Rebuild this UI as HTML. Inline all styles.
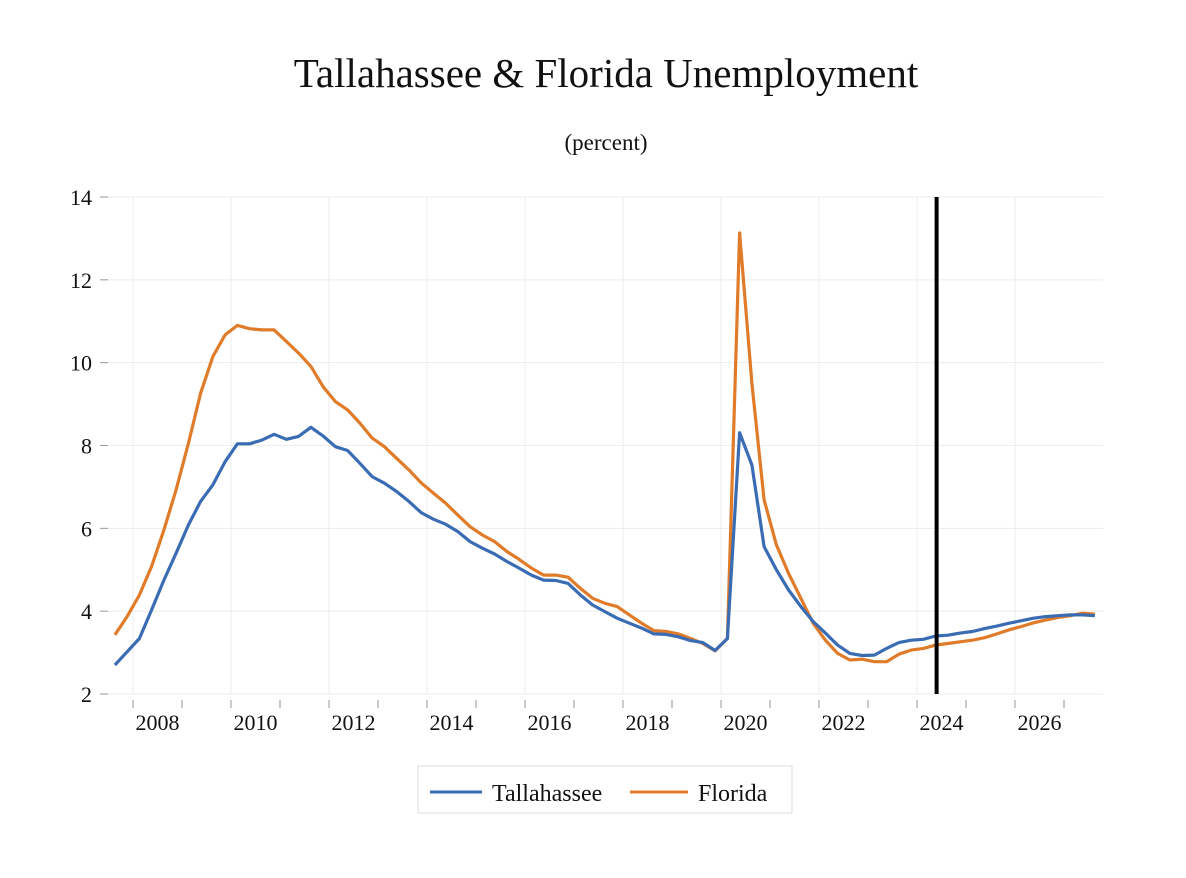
<!DOCTYPE html>
<html><head><meta charset="utf-8"><style>
html,body{margin:0;padding:0;background:#fff;}
svg text{font-family:"Liberation Serif",serif;fill:#111;}
</style></head><body>
<svg id="chart" width="1186" height="873" viewBox="0 0 1186 873" xmlns="http://www.w3.org/2000/svg">
<text x="606" y="87" text-anchor="middle" font-size="41">Tallahassee &amp; Florida Unemployment</text>
<text x="606" y="150" text-anchor="middle" font-size="23">(percent)</text>
<g id="grid"></g><g id="axes"></g><g id="series"></g>
<line id="divider" y1="197" y2="694" stroke="#000" stroke-width="4"/>
<g>
<rect x="418" y="766" width="374" height="47" fill="#fff" stroke="#ddd" stroke-width="1"/>
<line x1="430" y1="792" x2="482" y2="792" stroke="#3a6cb4" stroke-width="3"/>
<text x="492" y="801" font-size="24">Tallahassee</text>
<line x1="630" y1="792" x2="688" y2="792" stroke="#e07b2a" stroke-width="3"/>
<text x="698" y="801" font-size="24">Florida</text>
</g>
</svg>
<script>
const startYear = 2007.63;
const stepYears = 0.25;
const tallahassee = [2.70,3.02,3.34,4.03,4.75,5.40,6.08,6.65,7.05,7.61,8.04,8.04,8.13,8.27,8.15,8.22,8.44,8.23,7.97,7.88,7.57,7.25,7.09,6.89,6.65,6.38,6.22,6.10,5.92,5.68,5.52,5.38,5.20,5.04,4.87,4.75,4.74,4.67,4.39,4.15,3.99,3.83,3.71,3.59,3.45,3.44,3.38,3.29,3.24,3.05,3.34,8.31,7.53,5.56,5.00,4.51,4.11,3.75,3.47,3.18,2.98,2.93,2.94,3.10,3.24,3.30,3.32,3.40,3.42,3.47,3.51,3.58,3.64,3.71,3.77,3.83,3.87,3.89,3.91,3.91,3.89];
const florida = [3.43,3.87,4.39,5.08,5.96,6.93,8.05,9.26,10.15,10.67,10.90,10.82,10.79,10.79,10.51,10.23,9.91,9.42,9.06,8.86,8.54,8.18,7.97,7.69,7.41,7.10,6.85,6.61,6.32,6.04,5.84,5.68,5.44,5.25,5.04,4.87,4.87,4.82,4.55,4.31,4.19,4.11,3.91,3.71,3.53,3.51,3.45,3.34,3.22,3.04,3.34,13.13,9.50,6.69,5.60,4.91,4.31,3.71,3.30,2.98,2.82,2.84,2.78,2.78,2.96,3.06,3.10,3.18,3.22,3.26,3.30,3.36,3.45,3.55,3.63,3.72,3.79,3.85,3.89,3.95,3.93];
const yTicks = [2,4,6,8,10,12,14];
const xLabels = [2008,2010,2012,2014,2016,2018,2020,2022,2024,2026];
const forecastStart = 2024.4;

const NS="http://www.w3.org/2000/svg";
function X(t){return 133+(t-2008)*49;}
function Y(v){return 694-(v-2)*(497/12);}
function mk(tag,attrs,parent){const e=document.createElementNS(NS,tag);for(const k in attrs)e.setAttribute(k,attrs[k]);parent.appendChild(e);return e;}
const grid=document.getElementById('grid'),axes=document.getElementById('axes'),series=document.getElementById('series');
yTicks.forEach(v=>{
  const g=mk('line',{x1:108,x2:1103,y1:Y(v),y2:Y(v),stroke:'#ececec','stroke-width':1},grid);
  
  
  const tk=mk('line',{x1:100,x2:108,y1:Y(v),y2:Y(v),stroke:'#999','stroke-width':1},axes);
  
  
  const t=mk('text',{x:92,y:Y(v)+8,'text-anchor':'end','font-size':22},axes);
  t.textContent=v;
  
  
});
for(let yr=2008;yr<=2027;yr++){
  if(yr%2===0){
    const g=mk('line',{x1:X(yr),x2:X(yr),y1:197,y2:694,stroke:'#ececec','stroke-width':1},grid);
    
    
  }
  const tk=mk('line',{x1:X(yr),x2:X(yr),y1:700,y2:708,stroke:'#999','stroke-width':1},axes);
  
  
}
xLabels.forEach(yr=>{
  const t=mk('text',{x:X(yr+0.5),y:730,'text-anchor':'middle','font-size':22},axes);
  t.textContent=yr;
  
  
});
function line(arr,color,name){
  const d=arr.map((v,i)=>(i?'L':'M')+X(startYear+i*stepYears).toFixed(1)+','+Y(v).toFixed(1)).join(' ');
  const p=mk('path',{d:d,fill:'none',stroke:color,'stroke-width':3.2,'stroke-linejoin':'round'},series);
  
  
}
line(florida,'#e07b2a','florida-line');
line(tallahassee,'#3a6cb4','tallahassee-line');
const dv=document.getElementById('divider');
dv.setAttribute('x1',X(forecastStart));dv.setAttribute('x2',X(forecastStart));
</script>
</body></html>
